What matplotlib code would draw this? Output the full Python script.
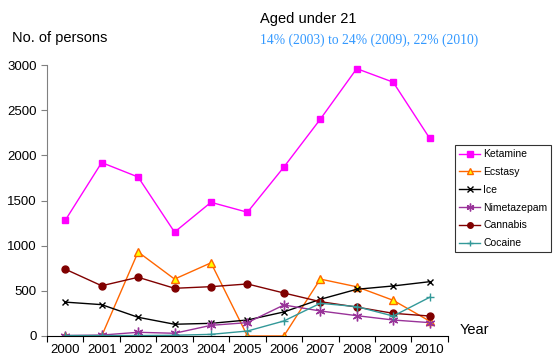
import matplotlib
matplotlib.use("Agg")
import matplotlib.pyplot as plt
import numpy as np

years = ["2000", "2001", "2002", "2003", "2004", "2005", "2006", "2007", "2008", "2009", "2010"]

ketamine = [1280, 1920, 1760, 1150, 1480, 1370, 1870, 2400, 2960, 2810, 2190]
ecstasy = [0, 0, 930, 630, 810, 0, 0, 630, 545, 395, 165]
ice = [375, 347, 207, 130, 140, 177, 266, 406, 517, 554, 601]
nimetazepam = [5, 10, 41, 30, 118, 148, 343, 277, 225, 177, 148]
cannabis = [740, 556, 650, 528, 546, 576, 476, 380, 320, 251, 221]
cocaine = [5, 5, 5, 8, 18, 55, 166, 362, 325, 221, 428]

plt.rcParams["font.family"] = ["Liberation Sans", "DejaVu Sans"]

fig = plt.figure(figsize=(5.57, 3.6), dpi=100)
ax = fig.add_axes([0.0844, 0.0667, 0.7196, 0.7527])

x = np.arange(len(years))

ax.plot(x, ketamine, color="#FF00FF", lw=1, marker="s", ms=5,
        mfc="#FF00FF", mec="#FF00FF", label="Ketamine")
ax.plot(x, ecstasy, color="#FF6600", lw=1, marker="^", ms=6,
        mfc="#FFFF00", mec="#FF6600", label="Ecstasy")
ax.plot(x, ice, color="black", lw=1, marker="x", ms=5, mew=1,
        label="Ice")
ax.plot(x, nimetazepam, color="#993399", lw=1, marker=(6, 2, 0), ms=7, mew=1,
        mec="#993399", label="Nimetazepam")
ax.plot(x, cannabis, color="#800000", lw=1, marker="o", ms=5,
        mfc="#800000", mec="#800000", label="Cannabis")
ax.plot(x, cocaine, color="#339999", lw=1, marker="+", ms=6, mew=1,
        label="Cocaine")

ax.set_xlim(-0.5, len(years) - 0.5)
ax.set_ylim(0, 3000)
ax.set_yticks(np.arange(0, 3001, 500))
ax.tick_params(axis="y", labelsize=9.5, length=4, direction="out", color="#808080")

# category axis: tick marks between years, labels centred on each year
ax.set_xticks(np.arange(-0.5, len(years), 1))
ax.set_xticklabels([])
ax.set_xticks(x, minor=True)
ax.set_xticklabels(years, minor=True)
ax.tick_params(axis="x", which="major", length=4, direction="out", color="black")
ax.tick_params(axis="x", which="minor", length=0, labelsize=9.5, pad=6)

ax.spines["top"].set_visible(False)
ax.spines["right"].set_visible(False)
ax.spines["left"].set_color("#808080")
ax.spines["bottom"].set_color("black")

handles, labels = ax.get_legend_handles_labels()
leg = fig.legend(handles, labels, loc="upper left",
                 bbox_to_anchor=(455 / 557, 1 - 145 / 360), fontsize=7.5,
                 frameon=True, fancybox=False, edgecolor="black",
                 handlelength=2.0, handletextpad=0.3, labelspacing=0.75,
                 borderpad=0.4, borderaxespad=0, markerscale=0.8)
leg.get_frame().set_linewidth(0.8)

fig.text(12 / 557, 1 - 38 / 360, "No. of persons", fontsize=10.5, va="center")
fig.text(260 / 557, 1 - 19 / 360, "Aged under 21", fontsize=10.5, va="center")
fig.text(260 / 557, 1 - 40 / 360, "14% (2003) to 24% (2009), 22% (2010)",
         fontsize=9.8, color="#3399FF", va="center",
         family=["Liberation Serif", "DejaVu Serif"])
fig.text(460 / 557, 1 - 330 / 360, "Year", fontsize=10.5, va="center")

fig.savefig("out.png", dpi=100)
